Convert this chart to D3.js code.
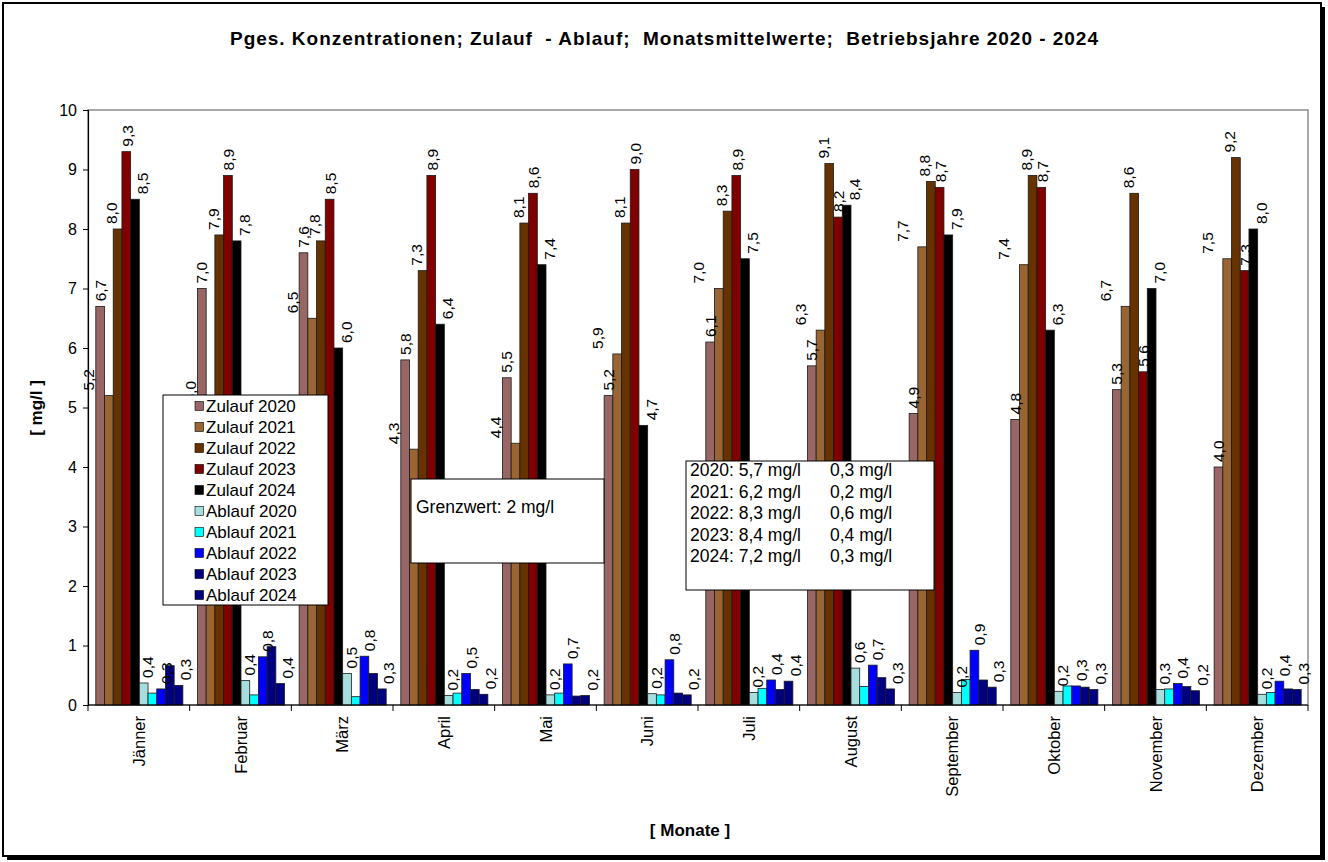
<!DOCTYPE html>
<html>
<head>
<meta charset="utf-8">
<script src="https://cdn.jsdelivr.net/npm/d3@7"></script>
<style>
  html, body { margin: 0; padding: 0; background: #fff; }
  svg { display: block; font-family: "Liberation Sans", Arial, sans-serif; }
</style>
</head>
<body>
<svg id="chart" width="1328" height="862"></svg>
<script>
// ---------- DATA ----------
const months = ["Jänner","Februar","März","April","Mai","Juni","Juli","August","September","Oktober","November","Dezember"];
const seriesNames = ["Zulauf 2020","Zulauf 2021","Zulauf 2022","Zulauf 2023","Zulauf 2024",
                     "Ablauf 2020","Ablauf 2021","Ablauf 2022","Ablauf 2023","Ablauf 2024"];
const zulauf2020 = [6.7, 7.0, 7.6, 5.8, 5.5, 5.2, 6.1, 5.7, 4.9, 4.8, 5.3, 4.0];
const zulauf2021 = [5.2, 5.0, 6.5, 4.3, 4.4, 5.9, 7.0, 6.3, 7.7, 7.4, 6.7, 7.5];
const zulauf2022 = [8.0, 7.9, 7.8, 7.3, 8.1, 8.1, 8.3, 9.1, 8.8, 8.9, 8.6, 9.2];
const zulauf2023 = [9.3, 8.9, 8.5, 8.9, 8.6, 9.0, 8.9, 8.2, 8.7, 8.7, 5.6, 7.3];
const zulauf2024 = [8.5, 7.8, 6.0, 6.4, 7.4, 4.7, 7.5, 8.4, 7.9, 6.3, 7.0, 8.0];
const ablauf2020 = [0.37, 0.41, 0.53, 0.16, 0.17, 0.19, 0.21, 0.62, 0.21, 0.23, 0.26, 0.18];
const ablauf2021 = [0.20, 0.17, 0.14, 0.20, 0.20, 0.17, 0.28, 0.31, 0.43, 0.32, 0.27, 0.21];
const ablauf2022 = [0.27, 0.81, 0.82, 0.53, 0.69, 0.76, 0.42, 0.67, 0.92, 0.32, 0.36, 0.40];
const ablauf2023 = [0.66, 0.98, 0.53, 0.26, 0.15, 0.20, 0.26, 0.46, 0.42, 0.30, 0.31, 0.27];
const ablauf2024 = [0.33, 0.36, 0.27, 0.18, 0.16, 0.17, 0.40, 0.27, 0.30, 0.26, 0.24, 0.26];
const seriesValues = [zulauf2020, zulauf2021, zulauf2022, zulauf2023, zulauf2024,
                      ablauf2020, ablauf2021, ablauf2022, ablauf2023, ablauf2024];
const yTicks = [0,1,2,3,4,5,6,7,8,9,10];
const titleText = "Pges. Konzentrationen; Zulauf  - Ablauf;  Monatsmittelwerte;  Betriebsjahre 2020 - 2024";
const yAxisTitle = "[ mg/l ]";
const xAxisTitle = "[ Monate ]";
const noteText = "Grenzwert: 2 mg/l";
const statYears = ["2020:","2021:","2022:","2023:","2024:"];
const statZulauf = ["5,7 mg/l","6,2 mg/l","8,3 mg/l","8,4 mg/l","7,2 mg/l"];
const statAblauf = ["0,3 mg/l","0,2 mg/l","0,6 mg/l","0,4 mg/l","0,3 mg/l"];

// ---------- STYLE ----------
const colors = ["#996666","#996633","#663300","#800000","#000000",
                "#a6dede","#00ffff","#0000ff","#000080","#000080"];
const labelShown = [true,true,true,true,true,true,false,true,false,true];
const labelDx = [0,-20,-6,1,8,4,0,5,0,7];

const svg = d3.select("#chart");
const W = 1328, H = 862;
const m = {left: 88, right: 1308, top: 110, bottom: 705};

// background & frame
svg.append("rect").attr("x",0).attr("y",0).attr("width",W).attr("height",H).attr("fill","#fff");
svg.append("rect").attr("x",7).attr("y",7).attr("width",1318).attr("height",853).attr("fill","#000");
svg.append("rect").attr("x",3).attr("y",3).attr("width",1318).attr("height",853)
   .attr("fill","#fff").attr("stroke","#000").attr("stroke-width",2);

// title
svg.append("text").attr("x",230).attr("y",45)
   .attr("font-size",19).attr("font-weight","bold")
   .attr("textLength",868).attr("lengthAdjust","spacing")
   .style("white-space","pre").text(titleText);

// scales
const x0 = d3.scaleBand().domain(months).range([m.left, m.right]).paddingInner(0).paddingOuter(0);
const x1 = d3.scaleBand().domain(d3.range(seriesNames.length))
   .range([7.8, x0.bandwidth()-6.8]).paddingInner(0).paddingOuter(0);
const y = d3.scaleLinear().domain([0,10]).range([m.bottom, m.top]);

// plot border (gray)
svg.append("rect").attr("x",m.left).attr("y",m.top).attr("width",m.right-m.left).attr("height",m.bottom-m.top)
   .attr("fill","#fff").attr("stroke","#8c8c8c").attr("stroke-width",1.5);

// bars
const g = svg.append("g");
seriesValues.forEach((vals, si) => {
  g.selectAll(null).data(vals).enter().append("rect")
    .attr("x",(d,i)=>x0(months[i]) + x1(si))
    .attr("y",d=>y(d))
    .attr("width",x1.bandwidth())
    .attr("height",d=>y(0)-y(d))
    .attr("fill",colors[si])
    .attr("stroke","#1a1a1a").attr("stroke-width",0.8);
});

// labels
const fmt = v => d3.format(".1f")(v).replace(".", ",");
seriesValues.forEach((vals, si) => {
  if (!labelShown[si]) return;
  g.selectAll(null).data(vals).enter().append("text")
    .attr("transform",(d,i)=>{
      const cx = x0(months[i]) + x1(si) + x1.bandwidth()/2 + labelDx[si];
      return `translate(${cx},${y(d)-5}) rotate(-90)`;
    })
    .attr("text-anchor","start").attr("dominant-baseline","central")
    .attr("font-size",15.5).attr("fill","#000").text(d=>fmt(d));
});

// y axis
const yAxis = d3.axisLeft(y).tickValues(yTicks).tickSize(5).tickFormat(d3.format("d"));
const ya = svg.append("g").attr("transform",`translate(${m.left},0)`).call(yAxis);
ya.select(".domain").attr("stroke","#000").attr("stroke-width",1.2);
ya.selectAll(".tick line").attr("stroke","#000");
ya.selectAll(".tick text").attr("font-size",16).attr("font-family","Liberation Sans, Arial, sans-serif")
  .attr("fill","#000").attr("x",-11);

// x axis
svg.append("line").attr("x1",m.left).attr("x2",m.right).attr("y1",m.bottom).attr("y2",m.bottom)
   .attr("stroke","#000").attr("stroke-width",1.2);
const bounds = months.map(mm => x0(mm)).concat([m.right]);
svg.selectAll(null).data(bounds).enter().append("line")
   .attr("x1",d=>d).attr("x2",d=>d).attr("y1",m.bottom).attr("y2",m.bottom+6)
   .attr("stroke","#000");
svg.selectAll(null).data(months).enter().append("text")
   .attr("transform",d=>`translate(${x0(d)+x0.bandwidth()/2},${m.bottom+11}) rotate(-90)`)
   .attr("text-anchor","end").attr("dominant-baseline","central")
   .attr("font-size",16.5).text(d=>d);

// axis titles
svg.append("text").attr("transform","translate(36,408) rotate(-90)").attr("text-anchor","middle")
   .attr("dominant-baseline","central").attr("font-size",17).attr("font-weight","bold")
   .style("white-space","pre").text(yAxisTitle);
svg.append("text").attr("x",690).attr("y",836).attr("text-anchor","middle")
   .attr("font-size",17).attr("font-weight","bold").style("white-space","pre").text(xAxisTitle);

// legend
const lg = svg.append("g").attr("transform","translate(163,395)");
lg.append("rect").attr("x",0).attr("y",0).attr("width",165).attr("height",210)
  .attr("fill","#fff").attr("stroke","#000").attr("stroke-width",1);
seriesNames.forEach((n,i)=>{
  const yy = 11 + i*21;
  lg.append("rect").attr("x",32).attr("y",yy-4.5).attr("width",8.5).attr("height",9)
    .attr("fill",colors[i]).attr("stroke","#000").attr("stroke-width",0.6);
  lg.append("text").attr("x",43).attr("y",yy).attr("dominant-baseline","central")
    .attr("font-size",17).text(n);
});

// Grenzwert box
svg.append("rect").attr("x",411).attr("y",479).attr("width",193).attr("height",84)
   .attr("fill","#fff").attr("stroke","#000").attr("stroke-width",1);
svg.append("text").attr("x",416).attr("y",507).attr("dominant-baseline","central")
   .attr("font-size",17.5).text(noteText);

// statistics box
svg.append("rect").attr("x",686).attr("y",461).attr("width",248).attr("height",129)
   .attr("fill","#fff").attr("stroke","#000").attr("stroke-width",1);
statYears.forEach((yr,i)=>{
  const yy = 470 + i*21.5;
  svg.append("text").attr("x",690).attr("y",yy).attr("dominant-baseline","central")
     .attr("font-size",17.5).text(`${yr} ${statZulauf[i]}`);
  svg.append("text").attr("x",830).attr("y",yy).attr("dominant-baseline","central")
     .attr("font-size",17.5).text(statAblauf[i]);
});
</script>
</body>
</html>
